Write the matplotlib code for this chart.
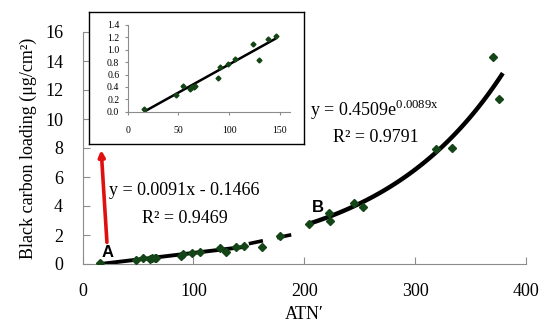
import numpy as np
import matplotlib
matplotlib.use("Agg")
import matplotlib.pyplot as plt

plt.rcParams['font.family'] = ['Liberation Serif', 'DejaVu Serif']
plt.rcParams['mathtext.fontset'] = 'custom'
plt.rcParams['mathtext.rm'] = 'Liberation Serif'

# ── data ──
low_atn = [16, 48, 55, 61, 63, 65, 66, 89, 91, 99, 106, 124, 129, 138, 146]
low_bc = [0.05, 0.27, 0.41, 0.37, 0.40, 0.40, 0.42, 0.55, 0.72, 0.77, 0.85, 1.10, 0.83, 1.17, 1.23]
mid_atn = [162, 178]
mid_bc = [1.15, 1.90]
high_atn = [204, 222, 223, 245, 253, 319, 333, 370, 376]
high_bc = [2.75, 3.50, 2.97, 4.22, 3.95, 7.90, 8.00, 14.3, 11.4]

# trend lines (coefficients printed on the chart)
lin_a, lin_b = 0.0091, -0.1466
exp_a, exp_k = 0.4509, 0.0089
lin_range = (17, 145)
exp_range = (205, 378)
bridge_atn = [150, 201]
bridge_bc = [1.40, 2.22]

green = '#144516'
grey = '#8c8c8c'

fig = plt.figure(figsize=(5.5, 3.31), dpi=100)
ax = fig.add_axes([82.5 / 550, 67 / 331, 443.5 / 550, 232 / 331])

xl = np.linspace(*lin_range, 50)
ax.plot(xl, lin_a * xl + lin_b, color='black', lw=2.8, zorder=2)
xe = np.linspace(*exp_range, 100)
ax.plot(xe, exp_a * np.exp(exp_k * xe), color='black', lw=3.2, zorder=2)
ax.plot(bridge_atn, bridge_bc, color='black', lw=2.6, ls=(0, (4, 4)), zorder=2)
ax.plot(low_atn + mid_atn + high_atn, low_bc + mid_bc + high_bc, 'D', ms=4.2,
        color=green, zorder=3)

ax.set_xlim(0, 400)
ax.set_ylim(0, 16)
ax.set_xticks([0, 100, 200, 300, 400])
ax.set_yticks(range(0, 17, 2))
ax.tick_params(direction='in', length=5, color=grey, labelsize=13, pad=14)
for s in ['top', 'right']:
    ax.spines[s].set_visible(False)
for s in ['left', 'bottom']:
    ax.spines[s].set_color(grey)
ax.set_xlabel("ATN\u2032", fontsize=13, labelpad=4)
ax.set_ylabel("Black carbon loading (\u03bcg/cm\u00b2)", fontsize=13, labelpad=6)

ax.text(92, 5.1, "y = 0.0091x - 0.1466", fontsize=13, ha='center', va='center')
ax.text(92, 3.17, "R\u00b2 = 0.9469", fontsize=13, ha='center', va='center')
ax.text(263, 10.6, r"y = 0.4509e$^{\mathrm{0.0089x}}$", fontsize=13, ha='center', va='center')
ax.text(265, 8.7, "R\u00b2 = 0.9791", fontsize=13, ha='center', va='center')
ax.text(23, 0.76, "A", fontsize=12, fontweight='bold', family='Liberation Sans',
        ha='center', va='center')
ax.text(212, 3.93, "B", fontsize=12, fontweight='bold', family='Liberation Sans',
        ha='center', va='center')

ax.annotate('', xy=(16.7, 8.05), xytext=(22.2, 1.3),
            arrowprops=dict(arrowstyle='-|>', color='#e01010', lw=2.6, mutation_scale=9))

# inset frame and inset axes
frame = fig.add_axes([89 / 550, 187 / 331, 215 / 550, 132 / 331], zorder=3)
frame.set_xticks([]); frame.set_yticks([])
for s in frame.spines.values():
    s.set_color('black'); s.set_linewidth(1.0)

ins = fig.add_axes([127.7 / 550, 219.3 / 331, 162.3 / 550, 86.7 / 331], zorder=4)
ins.set_facecolor('none')
ins.plot(xl, lin_a * xl + lin_b, color='black', lw=1.8)
ins.plot(low_atn, low_bc, 'D', ms=2.5, color=green)
ins.set_xlim(0, 160)
ins.set_ylim(0, 1.4)
ins.set_xticks([0, 50, 100, 150])
ins.set_yticks(np.arange(0, 1.41, 0.2))
ins.yaxis.set_major_formatter(plt.FormatStrFormatter('%.1f'))
ins.tick_params(direction='out', length=2, color=grey, labelsize=7)
ins.tick_params(axis='y', pad=4)
ins.tick_params(axis='x', pad=8)
for s in ['top', 'right']:
    ins.spines[s].set_visible(False)
for s in ['left', 'bottom']:
    ins.spines[s].set_color(grey)

fig.savefig("out.png", dpi=100)
